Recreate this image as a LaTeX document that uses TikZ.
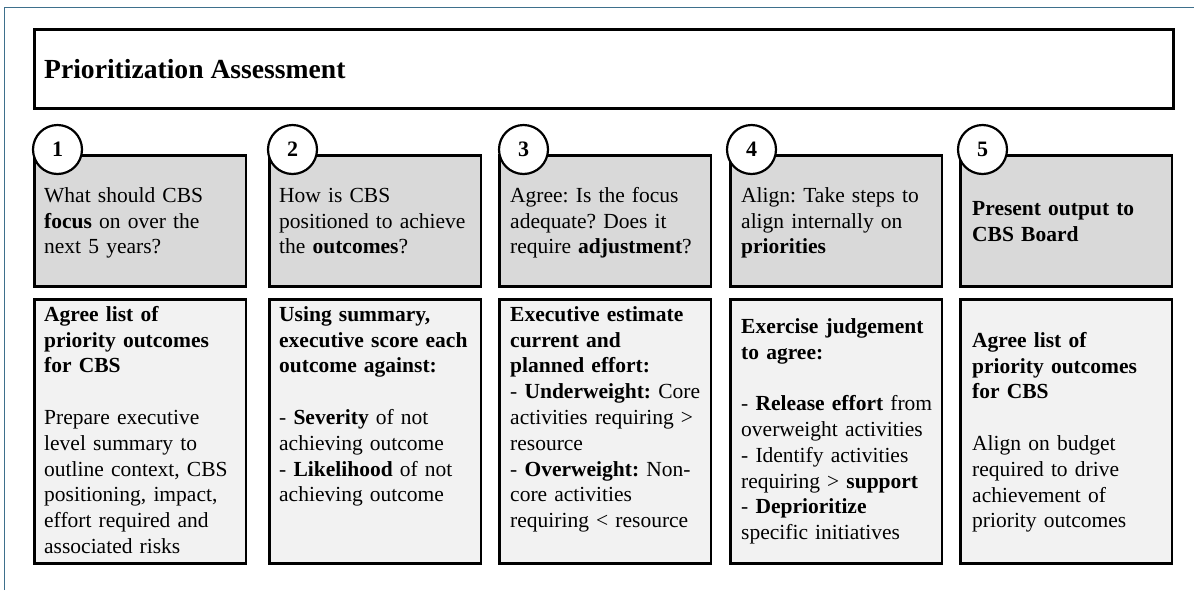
\documentclass[tikz,border=0pt]{standalone}
\usepackage{fontspec}
\setmainfont{Liberation Serif}
\frenchspacing
\definecolor{framecol}{RGB}{62,112,140}
\definecolor{topfill}{RGB}{217,217,217}
\definecolor{botfill}{RGB}{242,242,242}
\begin{document}
\frenchspacing
\begin{tikzpicture}[x=1pt,y=-1pt,
  titlebox/.style={draw=black, line width=2.8pt, fill=white, anchor=north west, inner sep=0pt, minimum width=1139pt, minimum height=79pt},
  topbox/.style={draw=black, line width=2.8pt, fill=topfill, anchor=north west, inner sep=0pt, minimum width=211.5pt, minimum height=131pt},
  botbox/.style={draw=black, line width=2.8pt, fill=botfill, anchor=north west, inner sep=0pt, minimum width=211.5pt, minimum height=264pt},
  numcirc/.style={circle, draw=black, line width=2.2pt, fill=white, minimum size=49pt, inner sep=0pt, font=\fontsize{22}{26}\selectfont\bfseries},
  txt/.style={anchor=north west, inner sep=0pt, align=left, text width=205pt, font=\fontsize{21.5}{25.8}\selectfont},
  qtxt/.style={txt, anchor=west}]
\useasboundingbox (0,0) rectangle (1194,590);
\fill[white] (0,0) rectangle (1194,590);
\draw[framecol, line width=1.2pt] (4.5,590) -- (4.5,7.5) -- (1194,7.5);

\node[titlebox] (title) at (33,28) {};
\node[anchor=base west, inner sep=0pt, font=\fontsize{27.6}{32}\selectfont\bfseries] (titletext) at (44,78) {Prioritization Assessment};

\foreach \i/\x/\c in {1/33/57.5, 2/268/292.5, 3/498/523.5, 4/729/751.5, 5/959/982.5} {
  \node[topbox] (q\i) at (\x,154) {};
  \node[botbox] (a\i) at (\x,298) {};
  \node[numcirc] (n\i) at (\c,149.5) {\i};
}

\node[qtxt] (qt1) at (44,223) {\strut What should CBS\\ \textbf{focus} on over the\\ next 5 years?\strut};
\node[qtxt] (qt2) at (279,223) {\strut How is CBS\\ positioned to achieve\\ the \textbf{outcomes}?\strut};
\node[qtxt] (qt3) at (510,223) {\strut Agree: Is the focus\\ adequate? Does it\\ require \textbf{adjustment}?\strut};
\node[qtxt] (qt4) at (741,223) {\strut Align: Take steps to\\ align internally on\\ \textbf{priorities}\strut};
\node[qtxt] (qt5) at (972,223) {\strut\textbf{Present output to}\\ \textbf{CBS Board}\strut};

\node[txt] (at1) at (44,303) {\strut\textbf{Agree list of}\\ \textbf{priority outcomes}\\ \textbf{for CBS}\\ \strut\\ Prepare executive\\ level summary to\\ outline context, CBS\\ positioning, impact,\\ effort required and\\ associated risks};
\node[txt] (at2) at (279,303) {\strut\textbf{Using summary,}\\ \textbf{executive score each}\\ \textbf{outcome against:}\\ \strut\\ - \textbf{Severity} of not\\ achieving outcome\\ - \textbf{Likelihood} of not\\ achieving outcome};
\node[txt] (at3) at (510,303) {\strut\textbf{Executive estimate}\\ \textbf{current and}\\ \textbf{planned effort:}\\ - \textbf{Underweight:} Core\\ activities requiring >\\ resource\\ - \textbf{Overweight:} Non-\\ core activities\\ requiring < resource};
\node[txt] (at4) at (741,315) {\strut\textbf{Exercise judgement}\\ \textbf{to agree:}\\ \strut\\ - \textbf{Release effort} from\\ overweight activities\\ - Identify activities\\ requiring > \textbf{support}\\ - \textbf{Deprioritize}\\ specific initiatives};
\node[txt] (at5) at (972,329) {\strut\textbf{Agree list of}\\ \textbf{priority outcomes}\\ \textbf{for CBS}\\ \strut\\ Align on budget\\ required to drive\\ achievement of\\ priority outcomes};
\end{tikzpicture}
\end{document}
